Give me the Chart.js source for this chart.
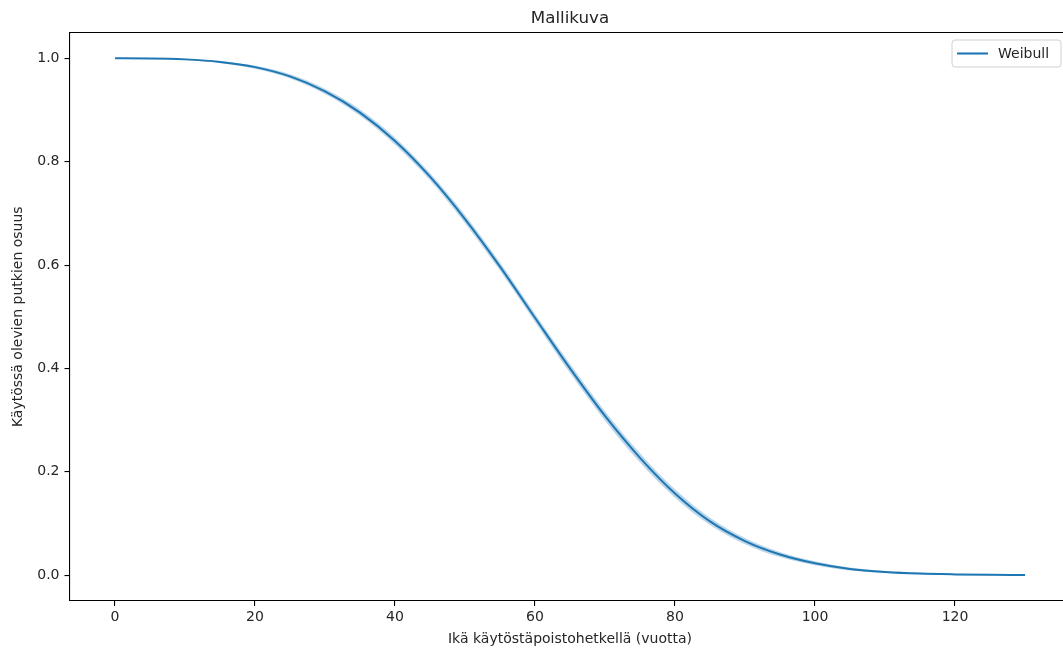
<!DOCTYPE html>
<html lang="fi">
<head>
<meta charset="utf-8">
<title>Mallikuva</title>
<script src="https://cdn.jsdelivr.net/npm/chart.js@4"></script>
<style>
  html, body { margin: 0; padding: 0; background: #fff; overflow: hidden; }
  #wrap { width: 1090px; height: 650px; }
</style>
</head>
<body>
<div id="wrap"><canvas id="weibullChart" width="1090" height="650"></canvas></div>
<script>
// ikä (vuotta) ja käytössä olevien putkien osuus
const ages = [0, 5, 10, 15, 20, 25, 30, 35, 40, 45, 50, 55, 60, 65, 70, 75, 80, 85, 90, 95, 100, 105, 110, 115, 120, 125, 130];
const survival = [1.000, 0.9998, 0.998, 0.993, 0.983, 0.965, 0.936, 0.895, 0.840, 0.771, 0.689, 0.597, 0.498, 0.400, 0.308, 0.227, 0.158, 0.104, 0.066, 0.040, 0.023, 0.012, 0.0062, 0.003, 0.0015, 0.0007, 0.0003];
// luottamusväli
const upperBand = [1.000, 1.000, 0.999, 0.995, 0.986, 0.969, 0.941, 0.901, 0.847, 0.778, 0.697, 0.605, 0.506, 0.409, 0.317, 0.236, 0.166, 0.111, 0.072, 0.045, 0.027, 0.015, 0.0082, 0.0045, 0.0025, 0.0017, 0.0013];
const lowerBand = [1.000, 0.9996, 0.997, 0.991, 0.980, 0.961, 0.931, 0.889, 0.833, 0.764, 0.681, 0.589, 0.490, 0.391, 0.299, 0.218, 0.150, 0.097, 0.060, 0.035, 0.019, 0.009, 0.0042, 0.0015, 0.0005, 0.0000, 0.0000];

const xTicks = [0, 20, 40, 60, 80, 100, 120];
const yTicks = [0.0, 0.2, 0.4, 0.6, 0.8, 1.0];

const seriesLabel = 'Weibull';
const chartTitle = 'Mallikuva';
const xTitle = 'Ikä käytöstäpoistohetkellä (vuotta)';
const yTitle = 'Käytössä olevien putkien osuus';

const blue = '#1f77b4';
const textColor = '#262626';
const baseFont = { family: '"DejaVu Sans", sans-serif', size: 14 };

const toPoints = values => ages.map((a, i) => ({ x: a, y: values[i] }));

// otsikko, ylä- ja oikea reuna sekä selite piirretään itse
const framePlugin = {
    id: 'frame',
    afterDraw(chart) {
        const { ctx, chartArea: area } = chart;
        ctx.save();
        ctx.strokeStyle = '#000';
        ctx.lineWidth = 1.1;
        ctx.beginPath();
        ctx.moveTo(area.left, area.top);
        ctx.lineTo(area.right, area.top);
        ctx.lineTo(area.right, area.bottom);
        ctx.stroke();

        ctx.fillStyle = textColor;
        ctx.font = '16.7px "DejaVu Sans", sans-serif';
        ctx.textAlign = 'center';
        ctx.textBaseline = 'alphabetic';
        ctx.fillText(chartTitle, (area.left + area.right) / 2, 23);

        // selite
        const bx = 952, by = 40, bw = 109, bh = 27, r = 3;
        ctx.beginPath();
        ctx.moveTo(bx + r, by);
        ctx.arcTo(bx + bw, by, bx + bw, by + bh, r);
        ctx.arcTo(bx + bw, by + bh, bx, by + bh, r);
        ctx.arcTo(bx, by + bh, bx, by, r);
        ctx.arcTo(bx, by, bx + bw, by, r);
        ctx.closePath();
        ctx.fillStyle = 'rgba(255,255,255,0.8)';
        ctx.fill();
        ctx.strokeStyle = '#d0d0d0';
        ctx.lineWidth = 1;
        ctx.stroke();

        ctx.strokeStyle = blue;
        ctx.lineWidth = 2.1;
        ctx.beginPath();
        ctx.moveTo(957, by + bh / 2);
        ctx.lineTo(988, by + bh / 2);
        ctx.stroke();

        ctx.fillStyle = textColor;
        ctx.font = '14px "DejaVu Sans", sans-serif';
        ctx.textAlign = 'left';
        ctx.textBaseline = 'middle';
        ctx.fillText(seriesLabel, 998, by + bh / 2 + 0.5);
        ctx.restore();
    }
};

const ctx = document.getElementById('weibullChart').getContext('2d');

new Chart(ctx, {
    type: 'line',
    data: {
        datasets: [
            {
                label: 'ylä',
                data: toPoints(upperBand),
                borderWidth: 0,
                pointRadius: 0,
                backgroundColor: 'rgba(31,119,180,0.3)',
                fill: '+1',
                cubicInterpolationMode: 'monotone'
            },
            {
                label: 'ala',
                data: toPoints(lowerBand),
                borderWidth: 0,
                pointRadius: 0,
                fill: false,
                cubicInterpolationMode: 'monotone'
            },
            {
                label: seriesLabel,
                data: toPoints(survival),
                borderColor: blue,
                borderWidth: 2,
                pointRadius: 0,
                fill: false,
                cubicInterpolationMode: 'monotone'
            }
        ]
    },
    options: {
        responsive: false,
        animation: false,
        devicePixelRatio: 1,
        layout: { padding: { top: 32.5, right: 19.5, left: 0, bottom: 0 } },
        plugins: {
            legend: { display: false },
            tooltip: { enabled: false },
            title: { display: false }
        },
        scales: {
            x: {
                type: 'linear',
                min: -6.5,
                max: 136.5,
                afterBuildTicks: scale => { scale.ticks = xTicks.map(v => ({ value: v })); },
                afterFit: scale => { scale.height = 49; },
                ticks: {
                    font: baseFont,
                    color: textColor,
                    padding: 3,
                    maxRotation: 0,
                    autoSkip: false
                },
                grid: {
                    display: true,
                    drawOnChartArea: false,
                    drawTicks: true,
                    tickLength: 5,
                    color: '#000',
                    lineWidth: 1.1
                },
                border: { display: true, color: '#000', width: 1.1 },
                title: {
                    display: true,
                    text: xTitle,
                    font: baseFont,
                    color: textColor,
                    padding: { top: 0, bottom: 2 }
                }
            },
            y: {
                type: 'linear',
                min: -0.05,
                max: 1.05,
                afterBuildTicks: scale => { scale.ticks = yTicks.map(v => ({ value: v })); },
                afterFit: scale => { scale.width = 69.5; },
                ticks: {
                    font: baseFont,
                    color: textColor,
                    padding: 5,
                    callback: v => v.toFixed(1)
                },
                grid: {
                    display: true,
                    drawOnChartArea: false,
                    drawTicks: true,
                    tickLength: 5,
                    color: '#000',
                    lineWidth: 1.1
                },
                border: { display: true, color: '#000', width: 1.1 },
                title: {
                    display: true,
                    text: yTitle,
                    font: baseFont,
                    color: textColor,
                    padding: { top: 10, bottom: 0 }
                }
            }
        }
    },
    plugins: [framePlugin]
});
</script>
</body>
</html>
